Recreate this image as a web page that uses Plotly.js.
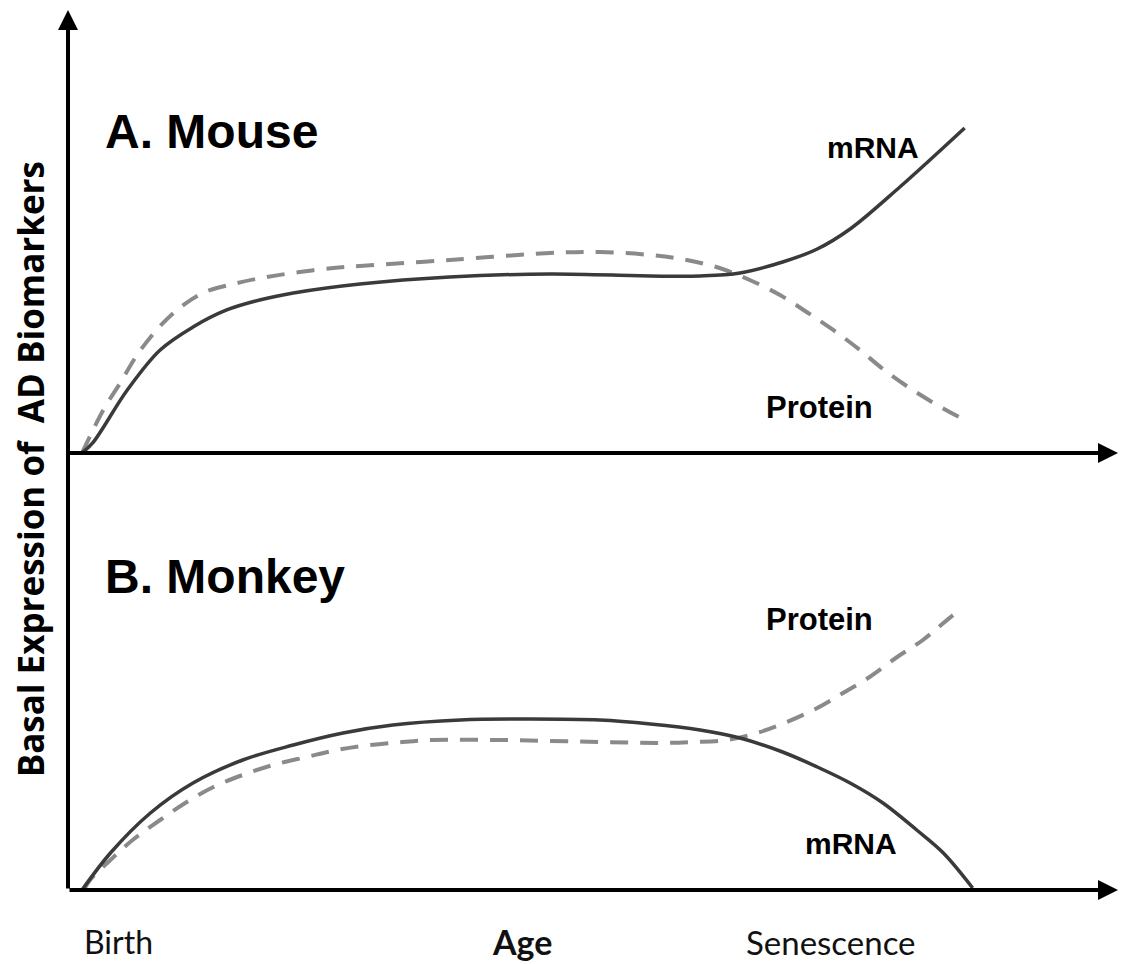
<!DOCTYPE html>
<html>
<head>
<meta charset="utf-8">
<script src="https://cdn.plot.ly/plotly-3.0.1.min.js"></script>
<style>html,body{margin:0;padding:0;background:#fff;}#chart{width:1121px;height:964px;}</style>
</head>
<body>
<div id="chart"></div>
<script>
// Age axis: 0 = Birth, 100 = end of curves (arbitrary units)
const mouseMrnaAge = [0, 1.2, 5.1, 8.8, 12.5, 16.3, 20.0, 23.8, 31.3, 41.4, 52.7, 64.0, 69.6, 74.1, 78.9, 82.8, 86.5, 92.1, 96.1, 99.4];
const mouseMrna    = [0, 0.10, 0.63, 1.03, 1.26, 1.43, 1.53, 1.60, 1.69, 1.76, 1.79, 1.77, 1.77, 1.80, 1.91, 2.04, 2.24, 2.66, 2.98, 3.25];

const mouseProteinAge = [0, 2.4, 4.3, 6.2, 8.4, 10.7, 13.6, 17.5, 20.8, 24.5, 28.3, 31.3, 41.4, 52.7, 58.3, 64.0, 68.1, 71.8, 75.2, 78.6, 81.6, 84.6, 87.6, 90.2, 93.2, 96.3, 99.8];
const mouseProtein    = [0, 0.43, 0.70, 0.98, 1.23, 1.43, 1.60, 1.70, 1.76, 1.81, 1.85, 1.87, 1.93, 2.00, 2.01, 1.98, 1.93, 1.85, 1.73, 1.58, 1.41, 1.23, 1.03, 0.84, 0.65, 0.48, 0.31];

const monkeyMrnaAge = [0, 3.2, 7.7, 12.5, 18.1, 23.8, 29.4, 35.0, 42.6, 50.5, 58.3, 64.0, 69.6, 74.1, 78.9, 82.8, 86.5, 90.2, 94.0, 97.0, 100.3];
const monkeyMrna    = [0, 0.37, 0.77, 1.07, 1.30, 1.45, 1.57, 1.65, 1.70, 1.71, 1.70, 1.66, 1.60, 1.52, 1.38, 1.23, 1.07, 0.87, 0.60, 0.37, 0.02];

const monkeyProteinAge = [0.2, 0.9, 3.2, 5.7, 8.8, 11.8, 14.8, 18.1, 21.5, 25.3, 28.7, 32.4, 36.1, 39.5, 47.1, 58.3, 65.1, 68.8, 72.6, 76.0, 79.4, 82.8, 85.7, 88.7, 91.8, 94.7, 98.1, 98.9];
const monkeyProtein    = [0, 0.10, 0.30, 0.50, 0.70, 0.88, 1.03, 1.15, 1.25, 1.33, 1.40, 1.45, 1.48, 1.50, 1.50, 1.48, 1.47, 1.48, 1.50, 1.57, 1.68, 1.82, 1.97, 2.13, 2.33, 2.50, 2.75, 2.80];

const panelTitles = ["A. Mouse", "B. Monkey"];
const seriesNames = ["mRNA", "Protein"];
const ageLabels = ["Birth", "Age", "Senescence"];
const yTitle = "Basal Expression of  AD Biomarkers";

const solid = {color: '#3a3a3a', width: 3.5, shape: 'spline', smoothing: 1};
const dashed = {color: '#8a8a8a', width: 4, dash: '18px,12px', shape: 'spline', smoothing: 1};

const traces = [
  {x: mouseProteinAge, y: mouseProtein, xaxis: 'x2', yaxis: 'y2', mode: 'lines', line: dashed, name: seriesNames[1]},
  {x: mouseMrnaAge, y: mouseMrna, xaxis: 'x2', yaxis: 'y2', mode: 'lines', line: solid, name: seriesNames[0]},
  {x: monkeyProteinAge, y: monkeyProtein, xaxis: 'x', yaxis: 'y', mode: 'lines', line: dashed, name: seriesNames[1]},
  {x: monkeyMrnaAge, y: monkeyMrna, xaxis: 'x', yaxis: 'y', mode: 'lines', line: solid, name: seriesNames[0]}
];

const xr = [-1.577, 116.67];
const split = 0.4966;
const hidden = {showgrid: false, zeroline: false, showticklabels: false, ticks: '', showline: false, fixedrange: true};

const SANS = 'Liberation Sans, Arial, sans-serif';
const lbl = (text, x, y, font, opts) => Object.assign({
  text: text, xref: 'paper', yref: 'paper', x: x, y: y, showarrow: false,
  xanchor: 'center', yanchor: 'middle', font: font
}, opts || {});

const arrow = (x, y, ax, ay) => ({
  xref: 'paper', yref: 'paper', x: x, y: y, ax: ax, ay: ay, text: '',
  showarrow: true, arrowhead: 2, arrowsize: 1, arrowwidth: 4, arrowcolor: '#000', standoff: 0
});

const layout = {
  width: 1121, height: 964,
  margin: {l: 68, r: 3, t: 10, b: 74},
  paper_bgcolor: '#fff', plot_bgcolor: '#fff',
  showlegend: false,
  xaxis: Object.assign({range: xr, anchor: 'y'}, hidden),
  yaxis: Object.assign({range: [0, 4.37], domain: [0, split]}, hidden),
  xaxis2: Object.assign({range: xr, anchor: 'y2'}, hidden),
  yaxis2: Object.assign({range: [0, 4.43], domain: [split, 1]}, hidden),
  annotations: [
    arrow(0, 1, 0, 880),
    arrow(1, split, -1050, 0),
    arrow(1, 0, -1050, 0),
    lbl(panelTitles[0], 0.0335, 0.862, {family: SANS, size: 48, color: '#000', weight: 'bold'}, {xanchor: 'left'}),
    lbl(panelTitles[1], 0.0335, 0.356, {family: SANS, size: 48, color: '#000', weight: 'bold'}, {xanchor: 'left'}),
    lbl(seriesNames[0], 0.7667, 0.844, {family: SANS, size: 30, color: '#000', weight: 'bold'}),
    lbl(seriesNames[1], 0.716, 0.548, {family: SANS, size: 31, color: '#000', weight: 'bold'}),
    lbl(seriesNames[1], 0.716, 0.307, {family: SANS, size: 31, color: '#000', weight: 'bold'}),
    lbl(seriesNames[0], 0.7457, 0.053, {family: SANS, size: 30, color: '#000', weight: 'bold'}),
    lbl(ageLabels[0], 0.0133, -0.059, {family: 'Lato, sans-serif', size: 32, color: '#111'}, {xanchor: 'left'}),
    lbl(ageLabels[1], 0.4324, -0.059, {family: 'Lato, sans-serif', size: 34, color: '#111', weight: 'bold'}),
    lbl(ageLabels[2], 0.7267, -0.059, {family: 'Lato, sans-serif', size: 33, color: '#111'}),
    lbl(yTitle, -0.0362, 0.478, {family: 'Open Sans, sans-serif', size: 35, color: '#000', weight: 'bold'}, {textangle: -90})
  ]
};

Plotly.newPlot('chart', traces, layout, {displayModeBar: false, staticPlot: true});
</script>
</body>
</html>
